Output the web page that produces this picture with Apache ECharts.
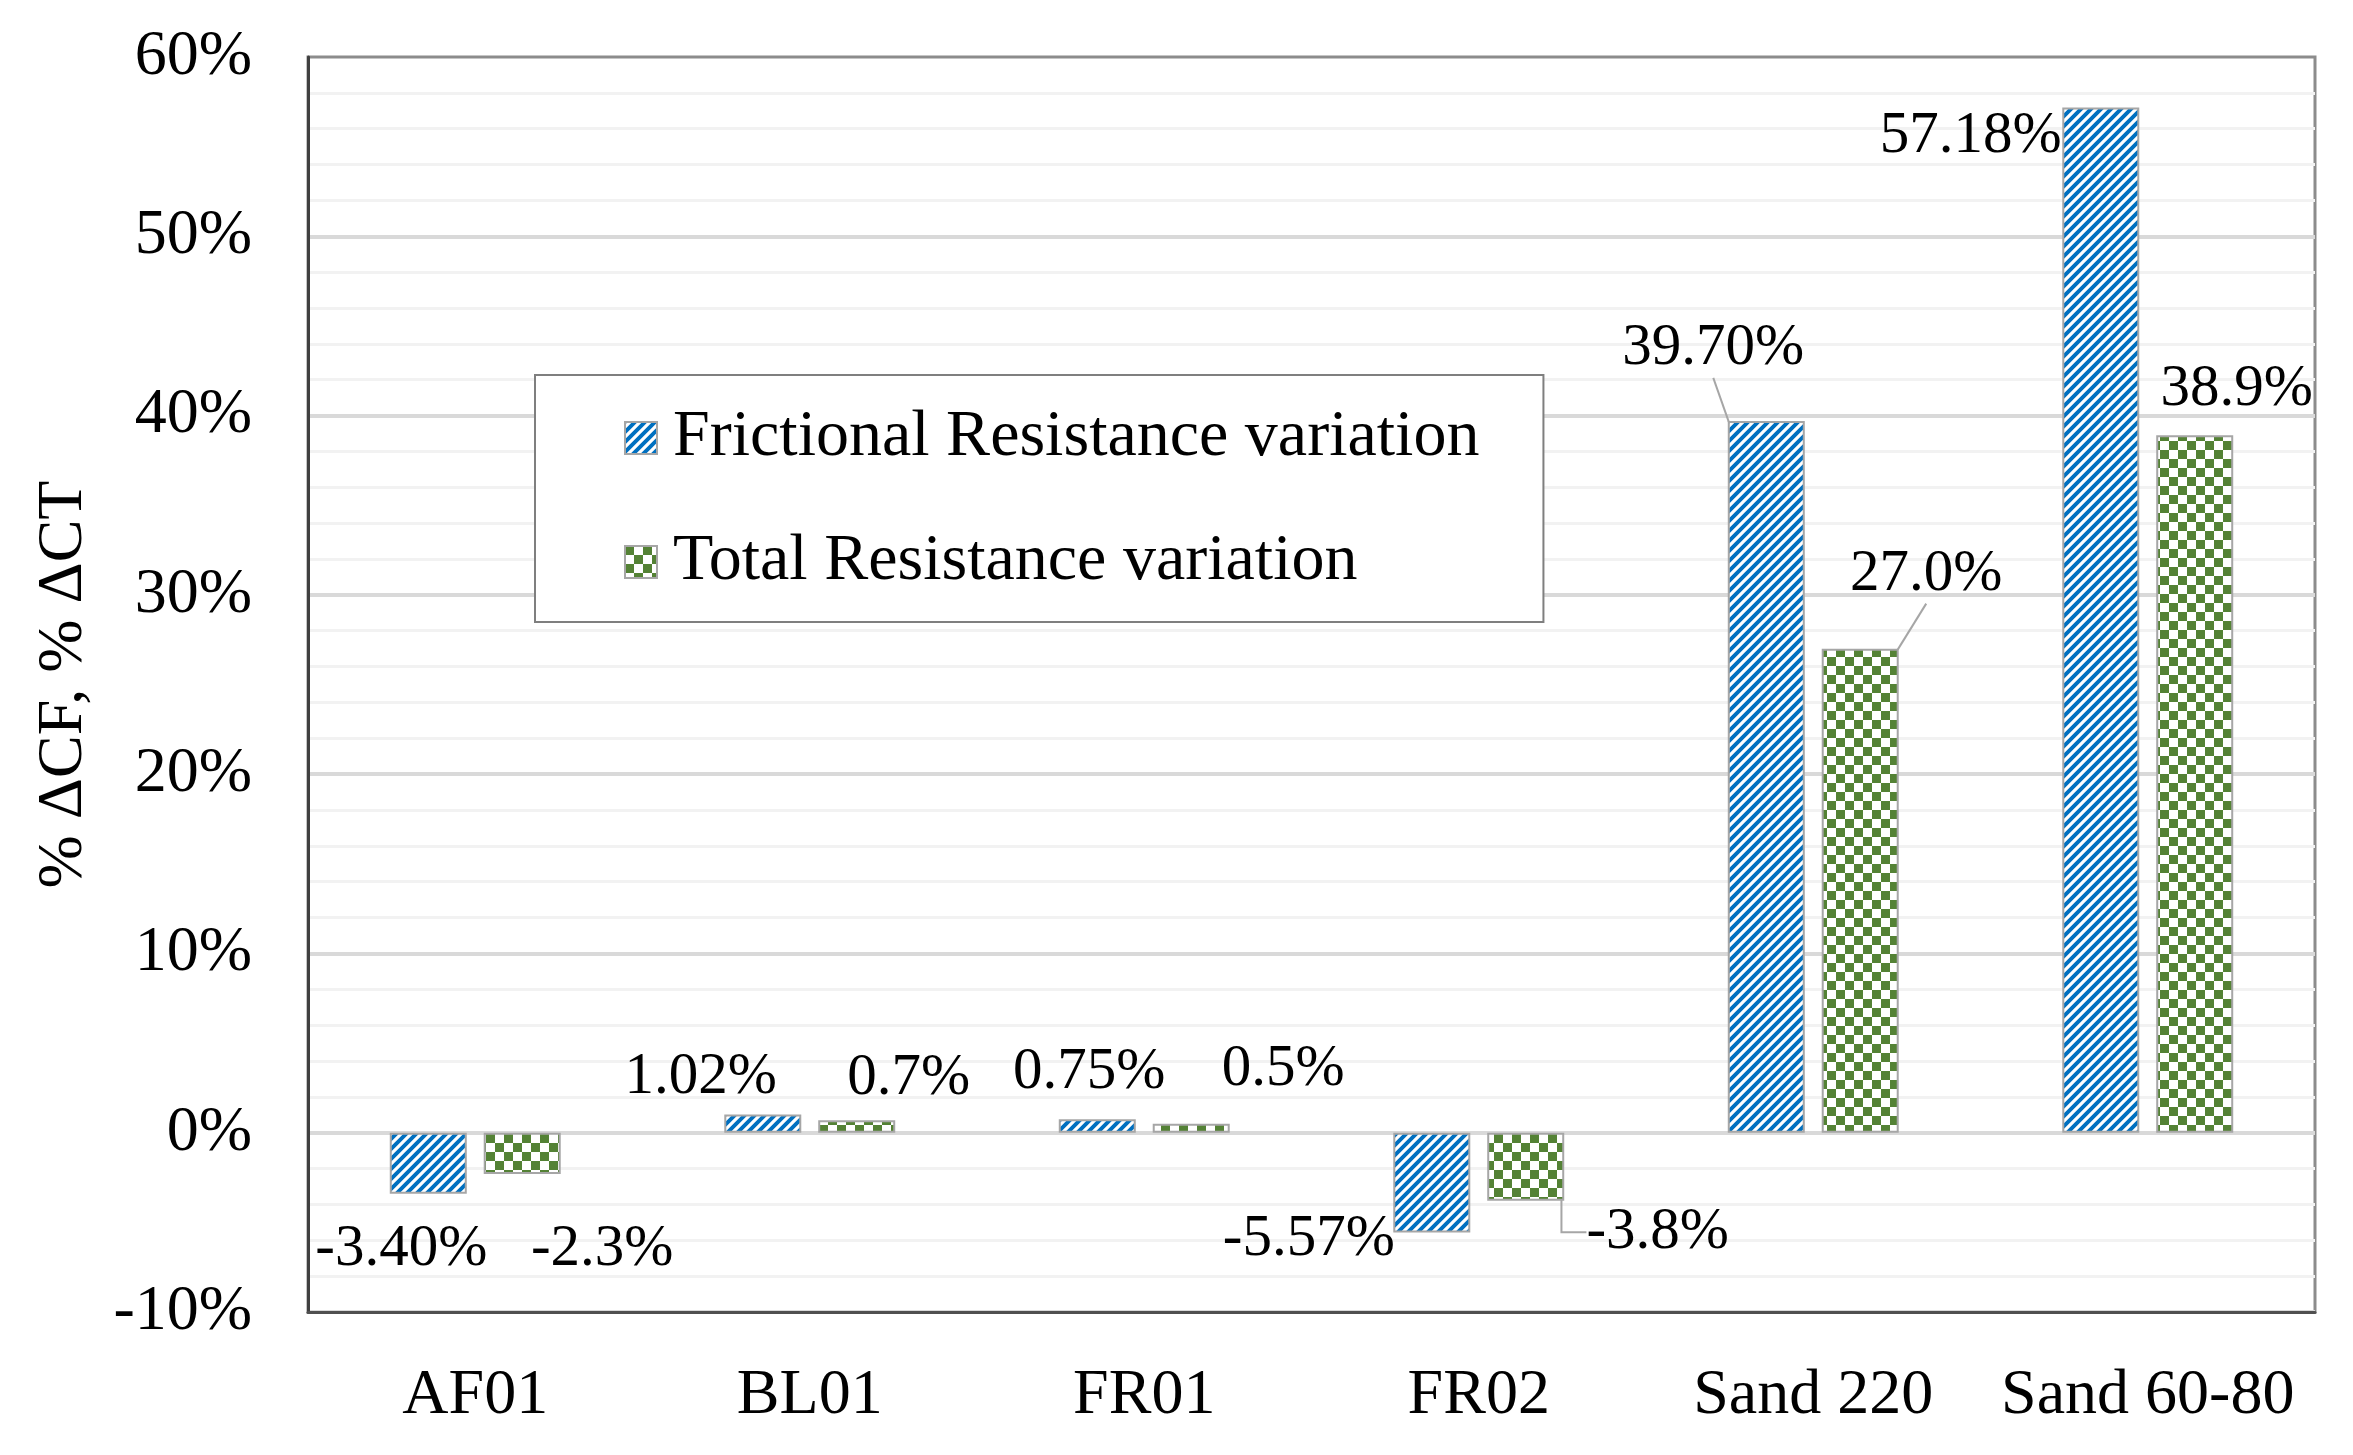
<!DOCTYPE html>
<html>
<head>
<meta charset="utf-8">
<script src="https://cdn.jsdelivr.net/npm/echarts@6/dist/echarts.min.js"></script>
<style>
html,body{margin:0;padding:0;background:#ffffff;}
#chart{width:2353px;height:1455px;}
</style>
</head>
<body>
<div id="chart"></div>
<script>
// ---- data ----
const categories = ['AF01', 'BL01', 'FR01', 'FR02', 'Sand 220', 'Sand 60-80'];
const seriesNames = ['Frictional Resistance variation', 'Total Resistance variation'];
const frictional = [-3.40, 1.02, 0.75, -5.57, 39.70, 57.18];
const total = [-2.3, 0.7, 0.5, -3.8, 27.0, 38.9];
const yTicks = [-10, 0, 10, 20, 30, 40, 50, 60];
const yTitle = '% \u0394CF, % \u0394CT';

// label placement (shift from default outside position) and leader lines
const frictionalLabelOffset = [[-27, 21], [-62, -2], [-8, -12], [-123, -28], [-53, -38], [-130, 63]];
const totalLabelOffset = [[80, 41], [52, -7], [92, -20], [132, -3], [66, -40], [42, -11]];
const frictionalLeader = [false, false, false, false, true, false];
const totalLeader = [false, false, false, true, true, false];

const FONT = '"Liberation Serif", "Times New Roman", serif';

function stripePattern() {
  const P = 10;
  const c = document.createElement('canvas');
  c.width = P; c.height = P;
  const g = c.getContext('2d');
  g.fillStyle = '#ffffff';
  g.fillRect(0, 0, P, P);
  g.strokeStyle = '#0070C0';
  g.lineWidth = 3.9;
  g.beginPath();
  g.moveTo(-2, P + 2); g.lineTo(P + 2, -2);
  g.moveTo(-3, 3); g.lineTo(3, -3);
  g.moveTo(P - 3, P + 3); g.lineTo(P + 3, P - 3);
  g.stroke();
  return c;
}
function checkerPattern() {
  const S = 9;
  const c = document.createElement('canvas');
  c.width = 2 * S; c.height = 2 * S;
  const g = c.getContext('2d');
  g.fillStyle = '#ffffff';
  g.fillRect(0, 0, 2 * S, 2 * S);
  g.fillStyle = '#548235';
  g.fillRect(0, 0, S, S);
  g.fillRect(S, S, S, S);
  return c;
}

const leaderStyle = { color: '#a6a6a6', width: 2 };

function buildData(values, leaders, length2s) {
  return values.map((v, i) => ({
    value: v,
    labelLine: { show: leaders[i], length2: length2s ? length2s[i] : 0, lineStyle: leaderStyle }
  }));
}

const chart = echarts.init(document.getElementById('chart'), null, { renderer: 'canvas' });

const labelBase = {
  show: true,
  position: 'outside',
  distance: 5,
  fontFamily: FONT,
  fontSize: 59,
  color: '#000000'
};

const option = {
  animation: false,
  backgroundColor: '#ffffff',
  grid: {
    left: 308, right: 38, top: 57, bottom: 143,
    show: true,
    borderColor: '#8c8c8c',
    borderWidth: 3,
    backgroundColor: 'transparent'
  },
  legend: {
    orient: 'vertical',
    left: 535,
    top: 375,
    padding: [30, 64, 27, 89],
    backgroundColor: '#ffffff',
    borderColor: '#7f7f7f',
    borderWidth: 2,
    itemWidth: 32,
    itemHeight: 32,
    itemGap: 58,
    icon: 'rect',
    data: seriesNames,
    textStyle: {
      fontFamily: FONT,
      fontSize: 66,
      lineHeight: 64,
      color: '#000000',
      padding: [0, 0, 0, 11]
    }
  },
  xAxis: {
    type: 'category',
    data: categories,
    axisLine: { onZero: false, lineStyle: { color: '#505050', width: 3 } },
    axisTick: { show: false },
    axisLabel: { interval: 0, fontFamily: FONT, fontSize: 64, color: '#000000', margin: 52 },
    splitLine: { show: false }
  },
  yAxis: {
    type: 'value',
    min: yTicks[0],
    max: yTicks[yTicks.length - 1],
    interval: 10,
    name: yTitle,
    nameLocation: 'middle',
    nameRotate: 90,
    nameGap: 212,
    nameTextStyle: { fontFamily: FONT, fontSize: 64, color: '#000000' },
    axisLine: { show: true, lineStyle: { color: '#404040', width: 3 } },
    axisTick: { show: false },
    axisLabel: {
      fontFamily: FONT, fontSize: 64, color: '#000000', margin: 56,
      formatter: v => v + '%'
    },
    splitLine: { show: true, showMaxLine: false, lineStyle: { color: '#d9d9d9', width: 4 } },
    minorTick: { show: false, splitNumber: 5 },
    minorSplitLine: { show: true, lineStyle: { color: '#f2f2f2', width: 3 } }
  },
  series: [
    {
      name: seriesNames[0],
      type: 'bar',
      barWidth: 77,
      barGap: '22%',
      itemStyle: {
        color: { image: stripePattern(), repeat: 'repeat' },
        borderColor: '#a6a6a6',
        borderWidth: 2
      },
      label: Object.assign({}, labelBase, { formatter: p => p.value.toFixed(2) + '%' }),
      labelLayout: p => ({ dx: frictionalLabelOffset[p.dataIndex][0], dy: frictionalLabelOffset[p.dataIndex][1] }),
      data: buildData(frictional, frictionalLeader)
    },
    {
      name: seriesNames[1],
      type: 'bar',
      barWidth: 77,
      barGap: '22%',
      itemStyle: {
        color: { image: checkerPattern(), repeat: 'repeat' },
        borderColor: '#a6a6a6',
        borderWidth: 2
      },
      label: Object.assign({}, labelBase, { formatter: p => p.value.toFixed(1) + '%' }),
      labelLayout: p => ({ dx: totalLabelOffset[p.dataIndex][0], dy: totalLabelOffset[p.dataIndex][1] }),
      data: buildData(total, totalLeader, [0, 0, 0, 25, 0, 0])
    }
  ]
};

chart.setOption(option);
</script>
</body>
</html>
